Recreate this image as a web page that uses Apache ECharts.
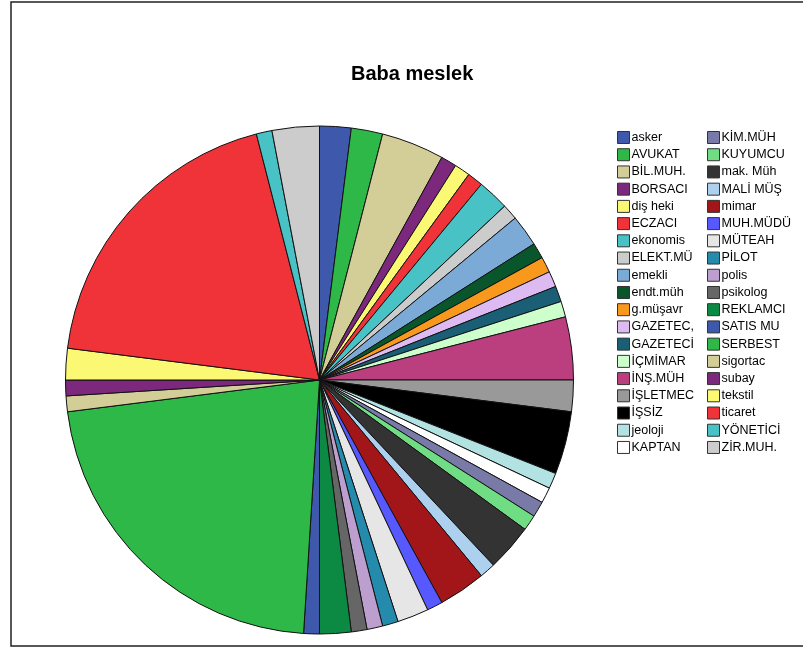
<!DOCTYPE html>
<html>
<head>
<meta charset="utf-8">
<script src="https://cdn.jsdelivr.net/npm/echarts@6/dist/echarts.min.js"></script>
<style>html,body{margin:0;padding:0;background:#fff;}#c{width:803px;height:648px;}</style>
</head>
<body>
<div id="c"></div>
<script>
var categories = ["asker","AVUKAT","BİL.MUH.","BORSACI","diş heki","ECZACI","ekonomis","ELEKT.MÜ","emekli","endt.müh","g.müşavr","GAZETEC,","GAZETECİ","İÇMİMAR","İNŞ.MÜH","İŞLETMEC","İŞSİZ","jeoloji","KAPTAN","KİM.MÜH","KUYUMCU","mak. Müh","MALİ MÜŞ","mimar","MUH.MÜDÜ","MÜTEAH","PİLOT","polis","psikolog","REKLAMCI","SATIS MU","SERBEST","sigortac","subay","tekstil","ticaret","YÖNETİCİ","ZİR.MUH."];
var counts = [2,2,4,1,1,1,2,1,2,1,1,1,1,1,4,2,4,1,1,1,1,3,1,3,1,2,1,1,1,2,1,22,1,1,2,19,1,3];
var colors = ["#3E58AC","#2EB848","#D3CE97","#7C287D","#FBF873","#EF3338","#48C2C5","#CCCCCC","#7AAAD5","#0A562C","#F8981D","#DDBAF1","#1A5F76","#CCFFCC","#BB3F7F","#999999","#000000","#B3E2E2","#FFFFFF","#797AA7","#70DC84","#333333","#ACD0EE","#A21619","#5858FF","#E6E6E6","#248BAC","#BC9FCF","#666666","#0C8A43","#3E58AC","#2EB848","#D3CE97","#7C287D","#FBF873","#EF3338","#48C2C5","#CCCCCC"];
var titleText = "Baba meslek";

var chart = echarts.init(document.getElementById('c'), null, {renderer:'canvas'});
var data = categories.map(function(n,i){ return {name:n, value:counts[i], itemStyle:{color:colors[i]}}; });
var half = Math.ceil(categories.length/2);
var legendCommon = {
  orient:'vertical', top:131, padding:0, itemWidth:12, itemHeight:12, itemGap:4.22,
  icon:'rect', selectedMode:false,
  itemStyle:{borderColor:'#333', borderWidth:1},
  textStyle:{fontFamily:'Liberation Sans, Arial, sans-serif', fontSize:12.5, color:'#000', lineHeight:12, padding:[0,0,0,-3]}
};
chart.setOption({
  animation:false,
  title:{text:titleText, left:351, top:64, padding:0,
    textStyle:{fontFamily:'Liberation Sans, Arial, sans-serif', fontSize:20, fontWeight:'bold', color:'#000'}},
  graphic:[{type:'rect', shape:{x:11, y:2, width:800, height:644}, style:{fill:'none', stroke:'#222', lineWidth:1.5}, silent:true}],
  legend:[
    Object.assign({left:617, data:categories.slice(0,half)}, legendCommon),
    Object.assign({left:707, data:categories.slice(half)}, legendCommon)
  ],
  series:[{
    type:'pie', center:[319.5,380], radius:[0,254], startAngle:90, clockwise:true,
    avoidLabelOverlap:false, label:{show:false}, labelLine:{show:false},
    emphasis:{disabled:true},
    itemStyle:{borderColor:'#111', borderWidth:1},
    data:data
  }]
});
</script>
</body>
</html>
